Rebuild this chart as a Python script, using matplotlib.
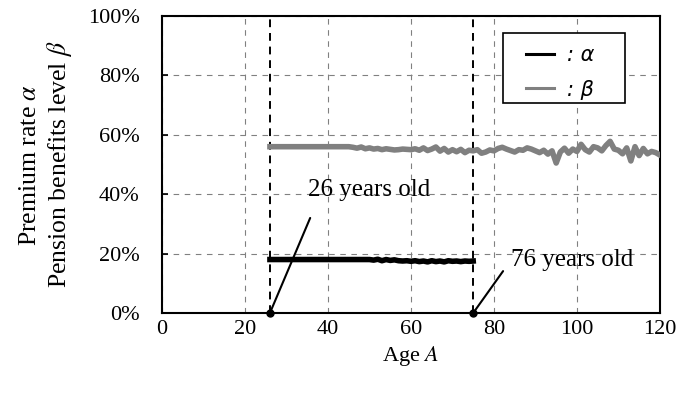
import numpy as np
import matplotlib.pyplot as plt
from matplotlib.patches import Rectangle

plt.rcParams['font.family'] = ['Liberation Serif', 'DejaVu Serif']
plt.rcParams['mathtext.fontset'] = 'stix'

# premium rate alpha, ages 26..75
alpha_age = list(range(26, 76))
alpha = [18.0] * 25 + [
    17.8, 18.1, 17.6, 18.0, 17.7, 17.9, 17.6, 17.5, 17.6, 17.4,
    17.6, 17.3, 17.5, 17.2, 17.6, 17.3, 17.5, 17.2, 17.6, 17.4,
    17.5, 17.3, 17.5, 17.4, 17.5]

# pension benefits level beta, ages 26..120
beta_age = list(range(26, 121))
beta = [56.0] * 20 + [
    55.8, 55.5, 55.9, 55.3, 55.6,
    55.2, 55.4, 55.0, 55.3, 55.1, 54.9, 55.0, 55.2, 55.1, 55.0,
    55.3, 54.8, 55.6, 54.7, 55.2, 55.9, 54.5, 55.4, 54.2, 55.0,
    54.3, 55.1, 54.0, 54.8, 54.6, 55.0, 53.8, 54.2, 54.9, 54.6,
    55.4, 55.8, 55.2, 54.7, 54.2, 55.0, 54.8, 55.6, 55.2, 54.6,
    54.0, 54.8, 53.5, 54.6, 50.5, 54.2, 55.5, 53.8, 55.2, 54.4,
    56.8, 55.0, 54.2, 56.0, 55.6, 54.6, 56.4, 57.8, 55.2, 54.8,
    53.6, 55.6, 51.2, 56.0, 53.0, 55.4, 53.6, 54.4, 54.0, 53.2]

start_age = 26
end_age = 75

fig = plt.figure(figsize=(6.81, 4.01), dpi=100)
ax = fig.add_axes([0.238, 0.2195, 0.731, 0.7405])

ax.grid(True, color='gray', linestyle=(0, (5, 5)), linewidth=0.8)
ax.set_axisbelow(True)

for a in (start_age, end_age):
    ax.axvline(a, color='black', linestyle=(0, (4, 3)), linewidth=1.4, zorder=2)

ax.plot(alpha_age, np.array(alpha) / 100, color='black', linewidth=4, label=': α', zorder=3)
ax.plot(beta_age, np.array(beta) / 100, color='#808080', linewidth=4, label=': β', zorder=3)

# leader lines and labels
ax.annotate('', xy=(start_age, 0), xytext=(35.7, 0.32),
            arrowprops=dict(arrowstyle='-', color='black', lw=1.5, shrinkA=0, shrinkB=0))
ax.text(50, 0.414, '26 years old', fontsize=18, ha='center', va='center')
ax.annotate('', xy=(end_age, 0), xytext=(82.2, 0.141),
            arrowprops=dict(arrowstyle='-', color='black', lw=1.5, shrinkA=0, shrinkB=0))
ax.text(98.8, 0.178, '76 years old', fontsize=18, ha='center', va='center')
ax.plot([start_age, end_age], [0, 0], 'o', color='black', markersize=5, clip_on=False, zorder=4)

ax.set_xlim(0, 120)
ax.set_ylim(0, 1)
ax.set_xticks(range(0, 121, 20))
ax.set_yticks(np.arange(0, 1.01, 0.2))
ax.set_yticklabels(['0%', '20%', '40%', '60%', '80%', '100%'])
ax.tick_params(axis='both', direction='in', labelsize=16, length=4, width=1.2)
ax.tick_params(axis='y', pad=16)
ax.tick_params(axis='x', length=0, pad=5)
for s in ax.spines.values():
    s.set_linewidth(1.5)

ax.set_xlabel('Age $A$', fontsize=16, labelpad=4)
ax.set_ylabel('Premium rate $\\alpha$\nPension benefits level $\\beta$', fontsize=18.5, labelpad=10)

# legend with a separately drawn frame
ax.add_patch(Rectangle((0.685, 0.707), 0.245, 0.236, transform=ax.transAxes,
                       facecolor='white', edgecolor='black', linewidth=1.2, zorder=5))
leg = ax.legend(loc='center', bbox_to_anchor=(0.80, 0.81), frameon=False,
                handlelength=1.35, handletextpad=0.6, borderpad=0, labelspacing=0.7,
                borderaxespad=0,
                prop={'family': 'DejaVu Sans', 'size': 15, 'style': 'italic'})
leg.set_zorder(6)
for ln in leg.get_lines():
    ln.set_linewidth(2.2)

fig.savefig('out.png', dpi=100)
